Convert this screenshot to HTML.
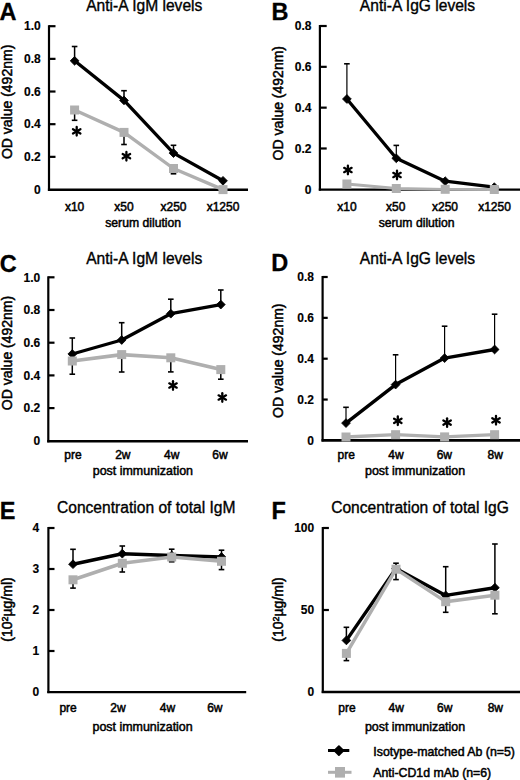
<!DOCTYPE html>
<html><head><meta charset="utf-8"><style>
html,body{margin:0;padding:0;background:#fff;width:520px;height:780px;overflow:hidden}
svg{position:absolute;left:0;top:0;font-family:"Liberation Sans", sans-serif}
</style></head><body>
<svg width="520" height="780" viewBox="0 0 520 780" font-family='"Liberation Sans", sans-serif'>
<line x1="49" y1="25.2" x2="49" y2="190.8" stroke="#000" stroke-width="2.2"/>
<line x1="47.9" y1="189.8" x2="248" y2="189.8" stroke="#000" stroke-width="2.4"/>
<text x="40.8" y="193.7" font-size="12" text-anchor="end" font-weight="bold" stroke="#000" stroke-width="0.15">0</text>
<line x1="49" y1="156.84" x2="55.5" y2="156.84" stroke="#000" stroke-width="2.2"/>
<text x="40.8" y="161.04" font-size="12" text-anchor="end" font-weight="bold" stroke="#000" stroke-width="0.15">0.2</text>
<line x1="49" y1="124.18" x2="55.5" y2="124.18" stroke="#000" stroke-width="2.2"/>
<text x="40.8" y="128.38" font-size="12" text-anchor="end" font-weight="bold" stroke="#000" stroke-width="0.15">0.4</text>
<line x1="49" y1="91.52" x2="55.5" y2="91.52" stroke="#000" stroke-width="2.2"/>
<text x="40.8" y="95.72" font-size="12" text-anchor="end" font-weight="bold" stroke="#000" stroke-width="0.15">0.6</text>
<line x1="49" y1="58.86" x2="55.5" y2="58.86" stroke="#000" stroke-width="2.2"/>
<text x="40.8" y="63.06" font-size="12" text-anchor="end" font-weight="bold" stroke="#000" stroke-width="0.15">0.8</text>
<line x1="49" y1="26.2" x2="55.5" y2="26.2" stroke="#000" stroke-width="2.2"/>
<text x="40.8" y="30.4" font-size="12" text-anchor="end" font-weight="bold" stroke="#000" stroke-width="0.15">1.0</text>
<text x="74.6" y="211.2" font-size="12" text-anchor="middle" stroke="#000" stroke-width="0.5">x10</text>
<text x="124" y="211.2" font-size="12" text-anchor="middle" stroke="#000" stroke-width="0.5">x50</text>
<text x="173.5" y="211.2" font-size="12" text-anchor="middle" stroke="#000" stroke-width="0.5">x250</text>
<text x="223" y="211.2" font-size="12" text-anchor="middle" stroke="#000" stroke-width="0.5">x1250</text>
<text x="143.2" y="226.9" font-size="12.2" text-anchor="middle" stroke="#000" stroke-width="0.5">serum dilution</text>
<text x="144.3" y="11.3" font-size="15.6" text-anchor="middle" stroke="#000" stroke-width="0.35">Anti-A IgM levels</text>
<text x="-0.5" y="20.2" font-size="23.5" text-anchor="start" font-weight="bold" stroke="#000" stroke-width="0.3">A</text>
<text x="0" y="0" font-size="14" text-anchor="middle" stroke="#000" stroke-width="0.5" transform="translate(11.6,101.9) rotate(-90)">OD value (492nm)</text>
<line x1="74.6" y1="60.8" x2="74.6" y2="46.5" stroke="#000" stroke-width="1.5"/>
<line x1="71.8" y1="46.5" x2="77.39999999999999" y2="46.5" stroke="#000" stroke-width="1.6"/>
<line x1="124" y1="100.4" x2="124" y2="90.7" stroke="#000" stroke-width="1.5"/>
<line x1="121.2" y1="90.7" x2="126.8" y2="90.7" stroke="#000" stroke-width="1.6"/>
<line x1="173.5" y1="153.1" x2="173.5" y2="145.3" stroke="#000" stroke-width="1.5"/>
<line x1="170.7" y1="145.3" x2="176.3" y2="145.3" stroke="#000" stroke-width="1.6"/>
<line x1="74.6" y1="110" x2="74.6" y2="120.3" stroke="#000" stroke-width="1.5"/>
<line x1="71.8" y1="120.3" x2="77.39999999999999" y2="120.3" stroke="#000" stroke-width="1.6"/>
<line x1="124" y1="132.4" x2="124" y2="144.5" stroke="#000" stroke-width="1.5"/>
<line x1="121.2" y1="144.5" x2="126.8" y2="144.5" stroke="#000" stroke-width="1.6"/>
<line x1="173.5" y1="168.5" x2="173.5" y2="173.8" stroke="#000" stroke-width="1.5"/>
<line x1="170.7" y1="173.8" x2="176.3" y2="173.8" stroke="#000" stroke-width="1.6"/>
<polyline points="74.6,60.8 124,100.4 173.5,153.1 223,180.8" fill="none" stroke="#000" stroke-width="3.3" stroke-linejoin="round"/>
<polygon points="74.6,56.4 79.0,60.8 74.6,65.2 70.19999999999999,60.8" fill="#000" stroke="#000" stroke-width="0.8" stroke-linejoin="round"/>
<polygon points="124,96.0 128.4,100.4 124,104.80000000000001 119.6,100.4" fill="#000" stroke="#000" stroke-width="0.8" stroke-linejoin="round"/>
<polygon points="173.5,148.7 177.9,153.1 173.5,157.5 169.1,153.1" fill="#000" stroke="#000" stroke-width="0.8" stroke-linejoin="round"/>
<polygon points="223,176.4 227.4,180.8 223,185.20000000000002 218.6,180.8" fill="#000" stroke="#000" stroke-width="0.8" stroke-linejoin="round"/>
<polyline points="74.6,110 124,132.4 173.5,168.5 223,189.6" fill="none" stroke="#afafaf" stroke-width="3.4" stroke-linejoin="round"/>
<rect x="70.1" y="105.5" width="9.0" height="9.0" fill="#afafaf"/>
<rect x="119.5" y="127.9" width="9.0" height="9.0" fill="#afafaf"/>
<rect x="169.0" y="164.0" width="9.0" height="9.0" fill="#afafaf"/>
<rect x="218.5" y="185.1" width="9.0" height="9.0" fill="#afafaf"/>
<line x1="76.70" y1="127.00" x2="76.70" y2="135.60" stroke="#000" stroke-width="2.3" stroke-linecap="round"/>
<line x1="72.98" y1="129.15" x2="80.42" y2="133.45" stroke="#000" stroke-width="2.3" stroke-linecap="round"/>
<line x1="72.98" y1="133.45" x2="80.42" y2="129.15" stroke="#000" stroke-width="2.3" stroke-linecap="round"/>
<line x1="126.40" y1="151.90" x2="126.40" y2="160.50" stroke="#000" stroke-width="2.3" stroke-linecap="round"/>
<line x1="122.68" y1="154.05" x2="130.12" y2="158.35" stroke="#000" stroke-width="2.3" stroke-linecap="round"/>
<line x1="122.68" y1="158.35" x2="130.12" y2="154.05" stroke="#000" stroke-width="2.3" stroke-linecap="round"/>
<line x1="319.9" y1="25" x2="319.9" y2="190.6" stroke="#000" stroke-width="2.2"/>
<line x1="318.79999999999995" y1="189.6" x2="521" y2="189.6" stroke="#000" stroke-width="2.4"/>
<text x="311.5" y="193.5" font-size="12" text-anchor="end" font-weight="bold" stroke="#000" stroke-width="0.15">0</text>
<line x1="319.9" y1="148.48" x2="326.7" y2="148.48" stroke="#000" stroke-width="2.2"/>
<text x="311.5" y="152.67999999999998" font-size="12" text-anchor="end" font-weight="bold" stroke="#000" stroke-width="0.15">0.2</text>
<line x1="319.9" y1="107.65" x2="326.7" y2="107.65" stroke="#000" stroke-width="2.2"/>
<text x="311.5" y="111.85000000000001" font-size="12" text-anchor="end" font-weight="bold" stroke="#000" stroke-width="0.15">0.4</text>
<line x1="319.9" y1="66.83" x2="326.7" y2="66.83" stroke="#000" stroke-width="2.2"/>
<text x="311.5" y="71.03" font-size="12" text-anchor="end" font-weight="bold" stroke="#000" stroke-width="0.15">0.6</text>
<line x1="319.9" y1="26.0" x2="326.7" y2="26.0" stroke="#000" stroke-width="2.2"/>
<text x="311.5" y="30.2" font-size="12" text-anchor="end" font-weight="bold" stroke="#000" stroke-width="0.15">0.8</text>
<text x="346.9" y="211" font-size="12" text-anchor="middle" stroke="#000" stroke-width="0.5">x10</text>
<text x="395.8" y="211" font-size="12" text-anchor="middle" stroke="#000" stroke-width="0.5">x50</text>
<text x="445" y="211" font-size="12" text-anchor="middle" stroke="#000" stroke-width="0.5">x250</text>
<text x="494.5" y="211" font-size="12" text-anchor="middle" stroke="#000" stroke-width="0.5">x1250</text>
<text x="416.6" y="226.9" font-size="12.2" text-anchor="middle" stroke="#000" stroke-width="0.5">serum dilution</text>
<text x="417.5" y="11.3" font-size="15.6" text-anchor="middle" stroke="#000" stroke-width="0.35">Anti-A IgG levels</text>
<text x="271.6" y="20.2" font-size="23.5" text-anchor="start" font-weight="bold" stroke="#000" stroke-width="0.3">B</text>
<text x="0" y="0" font-size="14" text-anchor="middle" stroke="#000" stroke-width="0.5" transform="translate(283.3,103.2) rotate(-90)">OD value (492nm)</text>
<line x1="346.9" y1="99" x2="346.9" y2="63.8" stroke="#000" stroke-width="1.2"/>
<line x1="344.09999999999997" y1="63.8" x2="349.7" y2="63.8" stroke="#000" stroke-width="1.6"/>
<line x1="396.3" y1="158.3" x2="396.3" y2="145.4" stroke="#000" stroke-width="1.2"/>
<line x1="393.5" y1="145.4" x2="399.1" y2="145.4" stroke="#000" stroke-width="1.6"/>
<polyline points="346.9,99 396.3,158.3 445.2,181.2 494.3,187.2" fill="none" stroke="#000" stroke-width="3.3" stroke-linejoin="round"/>
<polygon points="346.9,94.6 351.29999999999995,99 346.9,103.4 342.5,99" fill="#000" stroke="#000" stroke-width="0.8" stroke-linejoin="round"/>
<polygon points="396.3,153.9 400.7,158.3 396.3,162.70000000000002 391.90000000000003,158.3" fill="#000" stroke="#000" stroke-width="0.8" stroke-linejoin="round"/>
<polygon points="445.2,176.79999999999998 449.59999999999997,181.2 445.2,185.6 440.8,181.2" fill="#000" stroke="#000" stroke-width="0.8" stroke-linejoin="round"/>
<polygon points="494.3,182.79999999999998 498.7,187.2 494.3,191.6 489.90000000000003,187.2" fill="#000" stroke="#000" stroke-width="0.8" stroke-linejoin="round"/>
<polyline points="346.9,184 396.3,188.5 445.2,189.3 494.3,189.5" fill="none" stroke="#afafaf" stroke-width="2.8" stroke-linejoin="round"/>
<rect x="342.4" y="179.5" width="9.0" height="9.0" fill="#afafaf"/>
<rect x="391.8" y="184.0" width="9.0" height="9.0" fill="#afafaf"/>
<rect x="440.7" y="184.8" width="9.0" height="9.0" fill="#afafaf"/>
<rect x="489.8" y="185.0" width="9.0" height="9.0" fill="#afafaf"/>
<line x1="347.90" y1="165.70" x2="347.90" y2="174.30" stroke="#000" stroke-width="2.3" stroke-linecap="round"/>
<line x1="344.18" y1="167.85" x2="351.62" y2="172.15" stroke="#000" stroke-width="2.3" stroke-linecap="round"/>
<line x1="344.18" y1="172.15" x2="351.62" y2="167.85" stroke="#000" stroke-width="2.3" stroke-linecap="round"/>
<line x1="397.00" y1="170.70" x2="397.00" y2="179.30" stroke="#000" stroke-width="2.3" stroke-linecap="round"/>
<line x1="393.28" y1="172.85" x2="400.72" y2="177.15" stroke="#000" stroke-width="2.3" stroke-linecap="round"/>
<line x1="393.28" y1="177.15" x2="400.72" y2="172.85" stroke="#000" stroke-width="2.3" stroke-linecap="round"/>
<line x1="48.3" y1="276.3" x2="48.3" y2="442.3" stroke="#000" stroke-width="2.2"/>
<line x1="47.199999999999996" y1="441.3" x2="248" y2="441.3" stroke="#000" stroke-width="2.4"/>
<text x="40.3" y="445.0" font-size="12" text-anchor="end" font-weight="bold" stroke="#000" stroke-width="0.15">0</text>
<line x1="48.3" y1="408.1" x2="54.5" y2="408.1" stroke="#000" stroke-width="2.2"/>
<text x="40.3" y="412.3" font-size="12" text-anchor="end" font-weight="bold" stroke="#000" stroke-width="0.15">0.2</text>
<line x1="48.3" y1="375.4" x2="54.5" y2="375.4" stroke="#000" stroke-width="2.2"/>
<text x="40.3" y="379.59999999999997" font-size="12" text-anchor="end" font-weight="bold" stroke="#000" stroke-width="0.15">0.4</text>
<line x1="48.3" y1="342.7" x2="54.5" y2="342.7" stroke="#000" stroke-width="2.2"/>
<text x="40.3" y="346.9" font-size="12" text-anchor="end" font-weight="bold" stroke="#000" stroke-width="0.15">0.6</text>
<line x1="48.3" y1="310.0" x2="54.5" y2="310.0" stroke="#000" stroke-width="2.2"/>
<text x="40.3" y="314.2" font-size="12" text-anchor="end" font-weight="bold" stroke="#000" stroke-width="0.15">0.8</text>
<line x1="48.3" y1="277.3" x2="54.5" y2="277.3" stroke="#000" stroke-width="2.2"/>
<text x="40.3" y="281.5" font-size="12" text-anchor="end" font-weight="bold" stroke="#000" stroke-width="0.15">1.0</text>
<text x="73" y="458.5" font-size="12" text-anchor="middle" stroke="#000" stroke-width="0.5">pre</text>
<text x="122.8" y="458.5" font-size="12" text-anchor="middle" stroke="#000" stroke-width="0.5">2w</text>
<text x="171.7" y="458.5" font-size="12" text-anchor="middle" stroke="#000" stroke-width="0.5">4w</text>
<text x="220" y="458.5" font-size="12" text-anchor="middle" stroke="#000" stroke-width="0.5">6w</text>
<text x="142.9" y="475" font-size="12.45" text-anchor="middle" stroke="#000" stroke-width="0.5">post immunization</text>
<text x="144.25" y="263.9" font-size="15.6" text-anchor="middle" stroke="#000" stroke-width="0.35">Anti-A IgM levels</text>
<text x="-0.3" y="271.5" font-size="23.5" text-anchor="start" font-weight="bold" stroke="#000" stroke-width="0.3">C</text>
<text x="0" y="0" font-size="14" text-anchor="middle" stroke="#000" stroke-width="0.5" transform="translate(11.6,353) rotate(-90)">OD value (492nm)</text>
<line x1="72.3" y1="354" x2="72.3" y2="338" stroke="#000" stroke-width="1.5"/>
<line x1="69.5" y1="338" x2="75.1" y2="338" stroke="#000" stroke-width="1.6"/>
<line x1="121.7" y1="340" x2="121.7" y2="322.7" stroke="#000" stroke-width="1.5"/>
<line x1="118.9" y1="322.7" x2="124.5" y2="322.7" stroke="#000" stroke-width="1.6"/>
<line x1="170.8" y1="313.7" x2="170.8" y2="299.2" stroke="#000" stroke-width="1.5"/>
<line x1="168.0" y1="299.2" x2="173.60000000000002" y2="299.2" stroke="#000" stroke-width="1.6"/>
<line x1="220.8" y1="304.6" x2="220.8" y2="290" stroke="#000" stroke-width="1.5"/>
<line x1="218.0" y1="290" x2="223.60000000000002" y2="290" stroke="#000" stroke-width="1.6"/>
<line x1="72.3" y1="361" x2="72.3" y2="374.2" stroke="#000" stroke-width="1.5"/>
<line x1="69.5" y1="374.2" x2="75.1" y2="374.2" stroke="#000" stroke-width="1.6"/>
<line x1="121.7" y1="354.6" x2="121.7" y2="372" stroke="#000" stroke-width="1.5"/>
<line x1="118.9" y1="372" x2="124.5" y2="372" stroke="#000" stroke-width="1.6"/>
<line x1="170.8" y1="357.8" x2="170.8" y2="371.9" stroke="#000" stroke-width="1.5"/>
<line x1="168.0" y1="371.9" x2="173.60000000000002" y2="371.9" stroke="#000" stroke-width="1.6"/>
<line x1="220.8" y1="369.6" x2="220.8" y2="379.2" stroke="#000" stroke-width="1.5"/>
<line x1="218.0" y1="379.2" x2="223.60000000000002" y2="379.2" stroke="#000" stroke-width="1.6"/>
<polyline points="72.3,354 121.7,340 170.8,313.7 220.8,304.6" fill="none" stroke="#000" stroke-width="3.3" stroke-linejoin="round"/>
<polygon points="72.3,349.6 76.7,354 72.3,358.4 67.89999999999999,354" fill="#000" stroke="#000" stroke-width="0.8" stroke-linejoin="round"/>
<polygon points="121.7,335.6 126.10000000000001,340 121.7,344.4 117.3,340" fill="#000" stroke="#000" stroke-width="0.8" stroke-linejoin="round"/>
<polygon points="170.8,309.3 175.20000000000002,313.7 170.8,318.09999999999997 166.4,313.7" fill="#000" stroke="#000" stroke-width="0.8" stroke-linejoin="round"/>
<polygon points="220.8,300.20000000000005 225.20000000000002,304.6 220.8,309.0 216.4,304.6" fill="#000" stroke="#000" stroke-width="0.8" stroke-linejoin="round"/>
<polyline points="72.3,361 121.7,354.6 170.8,357.8 220.8,369.6" fill="none" stroke="#afafaf" stroke-width="3.6" stroke-linejoin="round"/>
<rect x="67.8" y="356.5" width="9.0" height="9.0" fill="#afafaf"/>
<rect x="117.2" y="350.1" width="9.0" height="9.0" fill="#afafaf"/>
<rect x="166.3" y="353.3" width="9.0" height="9.0" fill="#afafaf"/>
<rect x="216.3" y="365.1" width="9.0" height="9.0" fill="#afafaf"/>
<line x1="173.00" y1="381.20" x2="173.00" y2="389.80" stroke="#000" stroke-width="2.3" stroke-linecap="round"/>
<line x1="169.28" y1="383.35" x2="176.72" y2="387.65" stroke="#000" stroke-width="2.3" stroke-linecap="round"/>
<line x1="169.28" y1="387.65" x2="176.72" y2="383.35" stroke="#000" stroke-width="2.3" stroke-linecap="round"/>
<line x1="222.30" y1="393.20" x2="222.30" y2="401.80" stroke="#000" stroke-width="2.3" stroke-linecap="round"/>
<line x1="218.58" y1="395.35" x2="226.02" y2="399.65" stroke="#000" stroke-width="2.3" stroke-linecap="round"/>
<line x1="218.58" y1="399.65" x2="226.02" y2="395.35" stroke="#000" stroke-width="2.3" stroke-linecap="round"/>
<line x1="322.6" y1="276" x2="322.6" y2="441.4" stroke="#000" stroke-width="2.2"/>
<line x1="321.5" y1="440.4" x2="521" y2="440.4" stroke="#000" stroke-width="2.8"/>
<text x="314" y="444.59999999999997" font-size="12" text-anchor="end" font-weight="bold" stroke="#000" stroke-width="0.15">0</text>
<line x1="322.6" y1="399.55" x2="327.7" y2="399.55" stroke="#000" stroke-width="2.2"/>
<text x="314" y="403.75" font-size="12" text-anchor="end" font-weight="bold" stroke="#000" stroke-width="0.15">0.2</text>
<line x1="322.6" y1="358.7" x2="327.7" y2="358.7" stroke="#000" stroke-width="2.2"/>
<text x="314" y="362.9" font-size="12" text-anchor="end" font-weight="bold" stroke="#000" stroke-width="0.15">0.4</text>
<line x1="322.6" y1="317.85" x2="327.7" y2="317.85" stroke="#000" stroke-width="2.2"/>
<text x="314" y="322.05" font-size="12" text-anchor="end" font-weight="bold" stroke="#000" stroke-width="0.15">0.6</text>
<line x1="322.6" y1="277.0" x2="327.7" y2="277.0" stroke="#000" stroke-width="2.2"/>
<text x="314" y="281.2" font-size="12" text-anchor="end" font-weight="bold" stroke="#000" stroke-width="0.15">0.8</text>
<text x="346.2" y="458.5" font-size="12" text-anchor="middle" stroke="#000" stroke-width="0.5">pre</text>
<text x="396" y="458.5" font-size="12" text-anchor="middle" stroke="#000" stroke-width="0.5">4w</text>
<text x="444.3" y="458.5" font-size="12" text-anchor="middle" stroke="#000" stroke-width="0.5">6w</text>
<text x="495.2" y="458.5" font-size="12" text-anchor="middle" stroke="#000" stroke-width="0.5">8w</text>
<text x="415.1" y="475.3" font-size="12.45" text-anchor="middle" stroke="#000" stroke-width="0.5">post immunization</text>
<text x="417.5" y="263.5" font-size="15.6" text-anchor="middle" stroke="#000" stroke-width="0.35">Anti-A IgG levels</text>
<text x="271.2" y="270.8" font-size="23.5" text-anchor="start" font-weight="bold" stroke="#000" stroke-width="0.3">D</text>
<text x="0" y="0" font-size="14" text-anchor="middle" stroke="#000" stroke-width="0.5" transform="translate(283.3,360.7) rotate(-90)">OD value (492nm)</text>
<line x1="346" y1="423.1" x2="346" y2="407.3" stroke="#000" stroke-width="1.2"/>
<line x1="343.2" y1="407.3" x2="348.8" y2="407.3" stroke="#000" stroke-width="1.6"/>
<line x1="395.6" y1="384.6" x2="395.6" y2="354.8" stroke="#000" stroke-width="1.2"/>
<line x1="392.8" y1="354.8" x2="398.40000000000003" y2="354.8" stroke="#000" stroke-width="1.6"/>
<line x1="444.6" y1="358.1" x2="444.6" y2="326.2" stroke="#000" stroke-width="1.2"/>
<line x1="441.8" y1="326.2" x2="447.40000000000003" y2="326.2" stroke="#000" stroke-width="1.6"/>
<line x1="494.6" y1="349.5" x2="494.6" y2="314.2" stroke="#000" stroke-width="1.2"/>
<line x1="491.8" y1="314.2" x2="497.40000000000003" y2="314.2" stroke="#000" stroke-width="1.6"/>
<polyline points="346,423.1 395.6,384.6 444.6,358.1 494.6,349.5" fill="none" stroke="#000" stroke-width="3.4" stroke-linejoin="round"/>
<polygon points="346,418.70000000000005 350.4,423.1 346,427.5 341.6,423.1" fill="#000" stroke="#000" stroke-width="0.8" stroke-linejoin="round"/>
<polygon points="395.6,380.20000000000005 400.0,384.6 395.6,389.0 391.20000000000005,384.6" fill="#000" stroke="#000" stroke-width="0.8" stroke-linejoin="round"/>
<polygon points="444.6,353.70000000000005 449.0,358.1 444.6,362.5 440.20000000000005,358.1" fill="#000" stroke="#000" stroke-width="0.8" stroke-linejoin="round"/>
<polygon points="494.6,345.1 499.0,349.5 494.6,353.9 490.20000000000005,349.5" fill="#000" stroke="#000" stroke-width="0.8" stroke-linejoin="round"/>
<polyline points="346,437 395.6,434.7 444.6,436.9 494.6,434.7" fill="none" stroke="#afafaf" stroke-width="3.3" stroke-linejoin="round"/>
<rect x="341.5" y="432.5" width="9.0" height="9.0" fill="#afafaf"/>
<rect x="391.1" y="430.2" width="9.0" height="9.0" fill="#afafaf"/>
<rect x="440.1" y="432.4" width="9.0" height="9.0" fill="#afafaf"/>
<rect x="490.1" y="430.2" width="9.0" height="9.0" fill="#afafaf"/>
<line x1="397.80" y1="416.50" x2="397.80" y2="425.10" stroke="#000" stroke-width="2.3" stroke-linecap="round"/>
<line x1="394.08" y1="418.65" x2="401.52" y2="422.95" stroke="#000" stroke-width="2.3" stroke-linecap="round"/>
<line x1="394.08" y1="422.95" x2="401.52" y2="418.65" stroke="#000" stroke-width="2.3" stroke-linecap="round"/>
<line x1="447.10" y1="418.30" x2="447.10" y2="426.90" stroke="#000" stroke-width="2.3" stroke-linecap="round"/>
<line x1="443.38" y1="420.45" x2="450.82" y2="424.75" stroke="#000" stroke-width="2.3" stroke-linecap="round"/>
<line x1="443.38" y1="424.75" x2="450.82" y2="420.45" stroke="#000" stroke-width="2.3" stroke-linecap="round"/>
<line x1="496.00" y1="416.00" x2="496.00" y2="424.60" stroke="#000" stroke-width="2.3" stroke-linecap="round"/>
<line x1="492.28" y1="418.15" x2="499.72" y2="422.45" stroke="#000" stroke-width="2.3" stroke-linecap="round"/>
<line x1="492.28" y1="422.45" x2="499.72" y2="418.15" stroke="#000" stroke-width="2.3" stroke-linecap="round"/>
<line x1="48.4" y1="527" x2="48.4" y2="693.1" stroke="#000" stroke-width="2.2"/>
<line x1="47.3" y1="692.1" x2="246.2" y2="692.1" stroke="#000" stroke-width="2.4"/>
<text x="39.3" y="696.2" font-size="12" text-anchor="end" font-weight="bold" stroke="#000" stroke-width="0.15">0</text>
<line x1="48.4" y1="651.0" x2="54.5" y2="651.0" stroke="#000" stroke-width="2.2"/>
<text x="39.3" y="655.2" font-size="12" text-anchor="end" font-weight="bold" stroke="#000" stroke-width="0.15">1</text>
<line x1="48.4" y1="610.0" x2="54.5" y2="610.0" stroke="#000" stroke-width="2.2"/>
<text x="39.3" y="614.2" font-size="12" text-anchor="end" font-weight="bold" stroke="#000" stroke-width="0.15">2</text>
<line x1="48.4" y1="569.0" x2="54.5" y2="569.0" stroke="#000" stroke-width="2.2"/>
<text x="39.3" y="573.2" font-size="12" text-anchor="end" font-weight="bold" stroke="#000" stroke-width="0.15">3</text>
<line x1="48.4" y1="528.0" x2="54.5" y2="528.0" stroke="#000" stroke-width="2.2"/>
<text x="39.3" y="532.2" font-size="12" text-anchor="end" font-weight="bold" stroke="#000" stroke-width="0.15">4</text>
<text x="68.1" y="712.1" font-size="12" text-anchor="middle" stroke="#000" stroke-width="0.5">pre</text>
<text x="117.9" y="712.1" font-size="12" text-anchor="middle" stroke="#000" stroke-width="0.5">2w</text>
<text x="167.4" y="712.1" font-size="12" text-anchor="middle" stroke="#000" stroke-width="0.5">4w</text>
<text x="214.8" y="712.1" font-size="12" text-anchor="middle" stroke="#000" stroke-width="0.5">6w</text>
<text x="142.6" y="730.7" font-size="12.45" text-anchor="middle" stroke="#000" stroke-width="0.5">post immunization</text>
<text x="146.25" y="513.3" font-size="15.6" text-anchor="middle" stroke="#000" stroke-width="0.35">Concentration of total IgM</text>
<text x="-0.2" y="519" font-size="23.5" text-anchor="start" font-weight="bold" stroke="#000" stroke-width="0.3">E</text>
<text x="0" y="0" font-size="14" text-anchor="middle" stroke="#000" stroke-width="0.5" transform="translate(12.4,609.5) rotate(-90)">(10<tspan font-size="9" dy="-4">2</tspan><tspan dy="4">µg/ml)</tspan></text>
<line x1="73" y1="564.2" x2="73" y2="549.3" stroke="#000" stroke-width="1.5"/>
<line x1="70.2" y1="549.3" x2="75.8" y2="549.3" stroke="#000" stroke-width="1.6"/>
<line x1="122.3" y1="553.7" x2="122.3" y2="546" stroke="#000" stroke-width="1.5"/>
<line x1="119.5" y1="546" x2="125.1" y2="546" stroke="#000" stroke-width="1.6"/>
<line x1="171.7" y1="555.5" x2="171.7" y2="549.2" stroke="#000" stroke-width="1.5"/>
<line x1="168.89999999999998" y1="549.2" x2="174.5" y2="549.2" stroke="#000" stroke-width="1.6"/>
<line x1="221.5" y1="557" x2="221.5" y2="550.2" stroke="#000" stroke-width="1.5"/>
<line x1="218.7" y1="550.2" x2="224.3" y2="550.2" stroke="#000" stroke-width="1.6"/>
<line x1="73" y1="579.8" x2="73" y2="588.1" stroke="#000" stroke-width="1.5"/>
<line x1="70.2" y1="588.1" x2="75.8" y2="588.1" stroke="#000" stroke-width="1.6"/>
<line x1="122.3" y1="563.3" x2="122.3" y2="572" stroke="#000" stroke-width="1.5"/>
<line x1="119.5" y1="572" x2="125.1" y2="572" stroke="#000" stroke-width="1.6"/>
<line x1="171.7" y1="557" x2="171.7" y2="561.8" stroke="#000" stroke-width="1.5"/>
<line x1="168.89999999999998" y1="561.8" x2="174.5" y2="561.8" stroke="#000" stroke-width="1.6"/>
<line x1="221.5" y1="561.3" x2="221.5" y2="569.6" stroke="#000" stroke-width="1.5"/>
<line x1="218.7" y1="569.6" x2="224.3" y2="569.6" stroke="#000" stroke-width="1.6"/>
<polyline points="73,564.2 122.3,553.7 171.7,555.5 221.5,557" fill="none" stroke="#000" stroke-width="3.6" stroke-linejoin="round"/>
<polygon points="73,559.8000000000001 77.4,564.2 73,568.6 68.6,564.2" fill="#000" stroke="#000" stroke-width="0.8" stroke-linejoin="round"/>
<polygon points="122.3,549.3000000000001 126.7,553.7 122.3,558.1 117.89999999999999,553.7" fill="#000" stroke="#000" stroke-width="0.8" stroke-linejoin="round"/>
<polygon points="171.7,551.1 176.1,555.5 171.7,559.9 167.29999999999998,555.5" fill="#000" stroke="#000" stroke-width="0.8" stroke-linejoin="round"/>
<polygon points="221.5,552.6 225.9,557 221.5,561.4 217.1,557" fill="#000" stroke="#000" stroke-width="0.8" stroke-linejoin="round"/>
<polyline points="73,579.8 122.3,563.3 171.7,557 221.5,561.3" fill="none" stroke="#afafaf" stroke-width="3.6" stroke-linejoin="round"/>
<rect x="68.5" y="575.3" width="9.0" height="9.0" fill="#afafaf"/>
<rect x="117.8" y="558.8" width="9.0" height="9.0" fill="#afafaf"/>
<rect x="167.2" y="552.5" width="9.0" height="9.0" fill="#afafaf"/>
<rect x="217.0" y="556.8" width="9.0" height="9.0" fill="#afafaf"/>
<line x1="322.8" y1="527" x2="322.8" y2="693.0" stroke="#000" stroke-width="2.2"/>
<line x1="321.7" y1="692.0" x2="521" y2="692.0" stroke="#000" stroke-width="2.4"/>
<text x="314.2" y="696.2" font-size="12" text-anchor="end" font-weight="bold" stroke="#000" stroke-width="0.15">0</text>
<line x1="322.8" y1="610.0" x2="328.9" y2="610.0" stroke="#000" stroke-width="2.2"/>
<text x="314.2" y="614.2" font-size="12" text-anchor="end" font-weight="bold" stroke="#000" stroke-width="0.15">50</text>
<line x1="322.8" y1="528.0" x2="328.9" y2="528.0" stroke="#000" stroke-width="2.2"/>
<text x="314.2" y="532.2" font-size="12" text-anchor="end" font-weight="bold" stroke="#000" stroke-width="0.15">100</text>
<text x="347" y="712.3" font-size="12" text-anchor="middle" stroke="#000" stroke-width="0.5">pre</text>
<text x="396.2" y="712.3" font-size="12" text-anchor="middle" stroke="#000" stroke-width="0.5">4w</text>
<text x="444.7" y="712.3" font-size="12" text-anchor="middle" stroke="#000" stroke-width="0.5">6w</text>
<text x="495.3" y="712.3" font-size="12" text-anchor="middle" stroke="#000" stroke-width="0.5">8w</text>
<text x="415" y="730.8" font-size="12.45" text-anchor="middle" stroke="#000" stroke-width="0.5">post immunization</text>
<text x="420" y="513.3" font-size="15.6" text-anchor="middle" stroke="#000" stroke-width="0.35">Concentration of total IgG</text>
<text x="271.6" y="518.8" font-size="23.5" text-anchor="start" font-weight="bold" stroke="#000" stroke-width="0.3">F</text>
<text x="0" y="0" font-size="14" text-anchor="middle" stroke="#000" stroke-width="0.5" transform="translate(283,609.5) rotate(-90)">(10<tspan font-size="9" dy="-4">2</tspan><tspan dy="4">µg/ml)</tspan></text>
<line x1="346.4" y1="640.4" x2="346.4" y2="627.3" stroke="#000" stroke-width="1.5"/>
<line x1="343.59999999999997" y1="627.3" x2="349.2" y2="627.3" stroke="#000" stroke-width="1.6"/>
<line x1="396" y1="568.5" x2="396" y2="563.2" stroke="#000" stroke-width="1.5"/>
<line x1="393.2" y1="563.2" x2="398.8" y2="563.2" stroke="#000" stroke-width="1.6"/>
<line x1="445.7" y1="595.4" x2="445.7" y2="566.7" stroke="#000" stroke-width="1.5"/>
<line x1="442.9" y1="566.7" x2="448.5" y2="566.7" stroke="#000" stroke-width="1.6"/>
<line x1="494.9" y1="587.7" x2="494.9" y2="544" stroke="#000" stroke-width="1.5"/>
<line x1="492.09999999999997" y1="544" x2="497.7" y2="544" stroke="#000" stroke-width="1.6"/>
<line x1="346.4" y1="653.4" x2="346.4" y2="660.6" stroke="#000" stroke-width="1.5"/>
<line x1="343.59999999999997" y1="660.6" x2="349.2" y2="660.6" stroke="#000" stroke-width="1.6"/>
<line x1="396" y1="569.2" x2="396" y2="579.6" stroke="#000" stroke-width="1.5"/>
<line x1="393.2" y1="579.6" x2="398.8" y2="579.6" stroke="#000" stroke-width="1.6"/>
<line x1="445.7" y1="601.7" x2="445.7" y2="612.3" stroke="#000" stroke-width="1.5"/>
<line x1="442.9" y1="612.3" x2="448.5" y2="612.3" stroke="#000" stroke-width="1.6"/>
<line x1="494.9" y1="595.2" x2="494.9" y2="613.8" stroke="#000" stroke-width="1.5"/>
<line x1="492.09999999999997" y1="613.8" x2="497.7" y2="613.8" stroke="#000" stroke-width="1.6"/>
<polyline points="346.4,640.4 396,568.5 445.7,595.4 494.9,587.7" fill="none" stroke="#000" stroke-width="3.4" stroke-linejoin="round"/>
<polygon points="346.4,636.0 350.79999999999995,640.4 346.4,644.8 342.0,640.4" fill="#000" stroke="#000" stroke-width="0.8" stroke-linejoin="round"/>
<polygon points="396,564.1 400.4,568.5 396,572.9 391.6,568.5" fill="#000" stroke="#000" stroke-width="0.8" stroke-linejoin="round"/>
<polygon points="445.7,591.0 450.09999999999997,595.4 445.7,599.8 441.3,595.4" fill="#000" stroke="#000" stroke-width="0.8" stroke-linejoin="round"/>
<polygon points="494.9,583.3000000000001 499.29999999999995,587.7 494.9,592.1 490.5,587.7" fill="#000" stroke="#000" stroke-width="0.8" stroke-linejoin="round"/>
<polyline points="346.4,653.4 396,569.2 445.7,601.7 494.9,595.2" fill="none" stroke="#afafaf" stroke-width="3.4" stroke-linejoin="round"/>
<rect x="341.9" y="648.9" width="9.0" height="9.0" fill="#afafaf"/>
<rect x="391.5" y="564.7" width="9.0" height="9.0" fill="#afafaf"/>
<rect x="441.2" y="597.2" width="9.0" height="9.0" fill="#afafaf"/>
<rect x="490.4" y="590.7" width="9.0" height="9.0" fill="#afafaf"/>
<polyline points="328,750.5 349.3,750.5" fill="none" stroke="#000" stroke-width="3" stroke-linejoin="round"/>
<polygon points="338.9,746.1 343.4,750.6 338.9,755.1 334.4,750.6" fill="#000" stroke="#000" stroke-width="1.8" stroke-linejoin="round"/>
<polyline points="328,772.3 351.5,772.3" fill="none" stroke="#afafaf" stroke-width="3" stroke-linejoin="round"/>
<rect x="335" y="767" width="10" height="10.6" fill="#afafaf"/>
<text x="373.3" y="755.8" font-size="12.35" text-anchor="start" stroke="#000" stroke-width="0.5">Isotype-matched Ab (n=5)</text>
<text x="373.3" y="777.3" font-size="12.3" text-anchor="start" stroke="#000" stroke-width="0.5">Anti-CD1d mAb (n=6)</text>
</svg>
</body></html>
